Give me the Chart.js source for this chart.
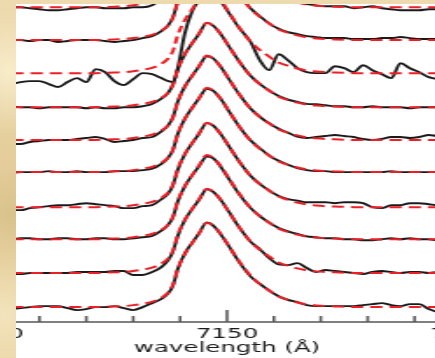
<!DOCTYPE html>
<html><head><meta charset="utf-8">
<script src="https://cdn.jsdelivr.net/npm/chart.js@4.4.1/dist/chart.umd.min.js"></script>
<style>
html,body{margin:0;padding:0;}
body{width:435px;height:358px;overflow:hidden;position:relative;background-color:#e7d3a2;
background-image:radial-gradient(circle at 2% 20%, rgba(255,246,218,0.7) 0, rgba(255,246,218,0) 12%),
radial-gradient(circle at 3% 60%, rgba(205,178,120,0.45) 0, rgba(205,178,120,0) 10%),
radial-gradient(circle at 1% 88%, rgba(250,238,205,0.6) 0, rgba(250,238,205,0) 10%),
linear-gradient(180deg,#eddaae,#e3cc99 50%,#ebd7a8);}
#win{position:absolute;left:16px;top:4px;width:419px;height:354px;background:#fff;overflow:hidden;}
#c{position:absolute;left:-76px;top:-104px;transform:scaleX(1.75);transform-origin:0 0;filter:blur(0.4px);}
</style></head>
<body><div id="win"><canvas id="c" width="328" height="472"></canvas></div>
<script>
// wavelength grid (Å)
const wavelengths = [7104,7106,7108,7110,7112,7114,7116,7118,7120,7122,
  7124,7126,7128,7130,7132,7134,
  7136,7137.5,7138.5,7139.5,7141,7142.5,7144,7145.7,7147,7148.5,7150.5,7152.5,7155,7157,7159,7161,7163,7165,
  7167,7169,7171,7173,7175,7177,
  7179,7181,7183,7185,7187,7189,7191,7193,7195,7197];

// fitted line profile (red dashed), relative flux
const modelProfile = [0,0,0,0,0,0,0,0,0,0,
  0.01,0.02,0.03,0.06,0.1,0.16,
  0.28,0.45,0.68,1.15,1.6,1.92,2.22,2.55,2.47,2.24,1.82,1.4,0.95,0.7,0.5,0.32,0.22,0.14,
  0.08,0.05,0.03,0.02,0.01,0,
  0,0,0,0,0,0,0,0,0,0];

// observed spectra (black), relative flux, bottom to top
const spectrum0 = [-0.06,-0.03,0,0.03,0.03,0.03,-0.03,-0.09,-0.06,0,
  0,0.03,-0.03,-0.09,0,0.12,
  0.25,0.42,0.66,1.15,1.62,1.93,2.22,2.56,2.47,2.23,1.82,1.38,0.93,0.7,0.5,0.33,0.22,0.15,
  0.06,0.03,0.03,0.03,0.03,0.03,
  0.06,0.09,0.12,0.06,0.03,0.09,0.09,-0.06,-0.15,-0.18];
const spectrum1 = [-0.03,-0.03,0,0,0,0,0,0.03,0.03,0.03,
  0.03,0.06,0.06,-0.06,-0.06,0.03,
  0.18,0.4,0.66,1.12,1.6,1.92,2.2,2.53,2.46,2.24,1.83,1.4,0.95,0.72,0.45,0.26,0.24,0.3,
  0.15,0.03,0.09,0.06,0.03,0,
  -0.03,0.03,0.06,0.03,0,0.03,0.03,0,0.03,0.03];
const spectrum2 = [0,0.03,0.03,0,0,0.03,0.03,0,0,0.03,
  0.03,0,0,0.03,0.06,0.1,
  0.26,0.44,0.68,1.14,1.6,1.92,2.2,2.5,2.45,2.22,1.8,1.38,0.95,0.7,0.5,0.34,0.24,0.16,
  0.09,0.06,0.03,0.03,0,0,
  -0.03,-0.03,0,0.03,0,0.03,0,0,-0.03,-0.03];
const spectrum3 = [-0.09,-0.09,-0.03,0,0.03,0.06,0.06,0.09,0.12,0.09,
  0.06,0.03,-0.03,-0.03,0.03,0.06,
  0.24,0.42,0.68,1.13,1.6,1.92,2.21,2.54,2.47,2.24,1.82,1.4,0.95,0.7,0.5,0.34,0.24,0.2,
  0.15,0.15,0.15,0.12,0.15,0.15,
  0.12,0,-0.03,0.06,0.06,0.12,0.12,0.09,0.06,0.06];
const spectrum4 = [-0.03,0,0,0,0.03,0,0,0.03,0,0,
  0,0.03,0.03,0.03,0.06,0.1,
  0.25,0.44,0.68,1.15,1.61,1.93,2.22,2.52,2.46,2.24,1.82,1.4,0.96,0.72,0.5,0.34,0.22,0.12,
  0.06,0.03,0.03,0,0,0,
  0,0,0,0.03,0,0,0,0,0,0];
const spectrum5 = [-0.12,-0.12,-0.06,-0.03,0,0,0,0.03,0.06,0.09,
  0.03,-0.06,-0.03,0,0.06,0.09,
  0.26,0.45,0.7,1.16,1.62,1.93,2.22,2.53,2.47,2.24,1.82,1.4,0.95,0.7,0.5,0.34,0.22,0.1,
  0.06,0.09,0.12,0.15,0.12,0.09,
  0.03,0,0.03,0.09,0.09,0.06,0.09,0.15,0.12,0.12];
const spectrum6 = [0.03,0,0,-0.03,0,0,0,0,-0.03,0,
  -0.03,-0.03,0,0,0.03,0.1,
  0.26,0.44,0.7,1.14,1.6,1.92,2.21,2.55,2.47,2.24,1.82,1.4,0.95,0.7,0.5,0.34,0.23,0.16,
  0.1,0.09,0.06,0.03,0.03,0,
  0,0.03,0,0,0,-0.03,0,0,0,0];
const spectrum7 = [-0.33,-0.27,-0.24,-0.24,-0.33,-0.42,-0.27,-0.15,-0.27,0.12,
  0.03,-0.24,-0.36,-0.18,0,-0.03,
  -0.15,-0.24,-0.27,0.15,1.2,1.85,2.2,2.5,2.45,2.2,1.8,1.38,0.95,0.39,0.09,0.57,0.39,0.15,
  0.03,0,0,0.21,0.15,0.03,
  0.24,0.09,-0.03,-0.15,0.3,0.15,0.03,-0.12,-0.18,-0.24];
const spectrum8 = [0,0,-0.03,0,0,-0.06,-0.03,0,0,0,
  -0.03,-0.06,-0.03,0,0.06,0.12,
  0.27,0.45,0.7,1.15,1.6,1.92,2.22,2.55,2.47,2.24,1.82,1.4,0.96,0.72,0.5,0.34,0.24,0.18,
  0.12,0.09,0.06,0.06,0.06,0.03,
  0.03,0.03,0.06,0.06,0.09,0.06,0.03,0.03,0.03,0.03];
const spectrum9 = [0,0,-0.03,-0.06,-0.09,-0.09,-0.06,-0.03,0,0,
  -0.03,-0.03,-0.03,0,0,0.06,
  0.26,0.45,0.7,1.15,1.6,1.92,2.22,2.55,2.47,2.24,1.82,1.4,0.95,0.7,0.5,0.34,0.24,0.16,
  0.1,0.06,0.03,0.03,0.03,-0.03,
  0,0.03,-0.03,-0.06,-0.09,-0.09,-0.09,-0.06,-0.06,-0.06];

// vertical stacking offsets of each spectrum
const offsets = [0,1.03,2.05,3.02,4.08,5.05,6.04,7.07,8.07,9.06];

// x-axis ticks
const tickValues = [7100,7110,7120,7130,7140,7150,7160,7170,7180,7190,7200];
const tickLabels = {7100:'7100',7150:'7150',7200:'7200'};
const axisTitle = 'wavelength (Å)';

const spectra = [spectrum0,spectrum1,spectrum2,spectrum3,spectrum4,spectrum5,spectrum6,spectrum7,spectrum8,spectrum9];

const datasets = [];
spectra.forEach((s,k) => {
  datasets.push({
    data: wavelengths.map((w,i) => ({x:w, y: offsets[k] + modelProfile[i]})),
    borderColor:'#ec1f26', borderWidth:2, borderDash:[7,4],
    pointRadius:0, fill:false, cubicInterpolationMode:'monotone', order:0
  });
});
spectra.forEach((s,k) => {
  datasets.push({
    data: wavelengths.map((w,i) => ({x:w, y: offsets[k] + s[i]})),
    borderColor:'#1a1a1a', borderWidth:1.9,
    pointRadius:0, fill:false, cubicInterpolationMode:'monotone', order:1
  });
});

const tickMarks = {
  id:'tickMarks',
  afterDatasetsDraw(chart){
    const sx = chart.scales.x, ctx = chart.ctx, y0 = chart.chartArea.bottom;
    ctx.save();
    ctx.strokeStyle = '#5a5a5a'; ctx.lineWidth = 1.6;
    sx.ticks.forEach(t => {
      const px = sx.getPixelForValue(t.value);
      const len = (t.value % 50 === 0) ? 12 : 6;
      ctx.beginPath(); ctx.moveTo(px, y0); ctx.lineTo(px, y0 - len); ctx.stroke();
    });
    ctx.restore();
  }
};

new Chart(document.getElementById('c'), {
  type:'line',
  data:{datasets},
  options:{
    responsive:false, animation:false,
    layout:{padding:{left:30,right:30,top:10,bottom:0}},
    plugins:{legend:{display:false}, tooltip:{enabled:false}},
    scales:{
      x:{type:'linear', min:7100, max:7200,
        afterBuildTicks: ax => { ax.ticks = tickValues.map(v => ({value:v})); },
        afterFit: ax => { ax.height = 50; },
        grid:{display:false, drawTicks:false},
        border:{display:true, color:'#808080', width:2},
        ticks:{autoSkip:false, maxRotation:0, padding:4, color:'#1a1a1a',
          font:{family:'DejaVu Sans', size:14},
          callback: v => tickLabels[v] || ''},
        title:{display:true, text:axisTitle, color:'#1a1a1a',
          font:{family:'DejaVu Sans', size:14}, padding:{top:0,bottom:15}}
      },
      y:{type:'linear', min:-0.45, max:12, display:false}
    }
  },
  plugins:[tickMarks]
});
</script>
</body></html>
